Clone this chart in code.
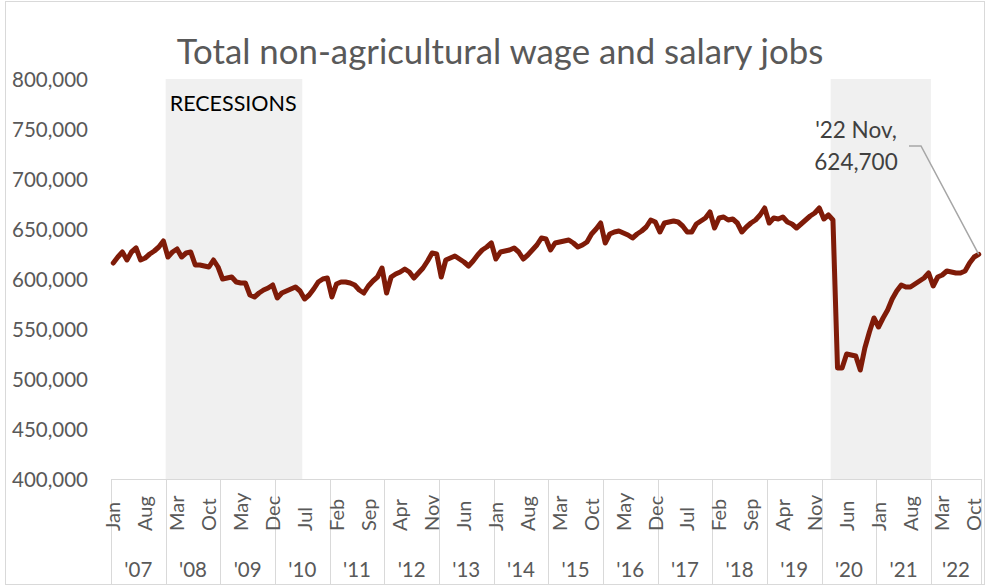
<!DOCTYPE html>
<html>
<head>
<meta charset="utf-8">
<script src="https://cdn.jsdelivr.net/npm/d3@7"></script>
<style>
    html, body { margin: 0; padding: 0; background: #fff; }
    svg { display: block; font-family: Lato, "Open Sans", sans-serif; }
</style>
</head>
<body>
<div id="chart"></div>
<script>
"use strict";

// Monthly jobs, Jan 2007 .. Nov 2022 (one row per year)
const jobs = [
    616000, 622000, 627000, 619000, 627000, 631000, 619000, 621000, 625000, 628000, 632000, 638000,
    622000, 627000, 630000, 622000, 626000, 627000, 614000, 614000, 613000, 612000, 619000, 612000,
    600000, 601000, 602000, 597000, 596000, 596000, 584000, 582000, 586000, 589000, 591000, 594000,
    581000, 586000, 588000, 590000, 592000, 588000, 580000, 584000, 590000, 597000, 600000, 601000,
    582000, 595000, 597000, 597000, 596000, 594000, 589000, 586000, 593000, 598000, 602000, 611000,
    586000, 602000, 605000, 607000, 610000, 607000, 601000, 606000, 611000, 618000, 626000, 625000,
    602000, 619000, 621000, 623000, 620000, 617000, 613000, 618000, 624000, 629000, 632000, 636000,
    620000, 627000, 628000, 629000, 631000, 627000, 620000, 624000, 629000, 634000, 641000, 640000,
    629000, 636000, 637000, 638000, 639000, 636000, 632000, 634000, 637000, 645000, 650000, 656000,
    636000, 645000, 647000, 648000, 646000, 644000, 641000, 645000, 648000, 652000, 659000, 657000,
    647000, 656000, 657000, 658000, 657000, 653000, 647000, 647000, 655000, 658000, 661000, 667000,
    651000, 661000, 662000, 659000, 660000, 656000, 647000, 652000, 656000, 659000, 664000, 671000,
    656000, 661000, 660000, 662000, 657000, 655000, 651000, 655000, 659000, 663000, 666000, 671000,
    660000, 664000, 659000, 511000, 511000, 525000, 524000, 523000, 509000, 531000, 547000, 561000,
    552000, 561000, 569000, 580000, 588000, 594000, 592000, 592000, 595000, 598000, 601000, 606000,
    593000, 602000, 604000, 608000, 607000, 606000, 606000, 608000, 616000, 622000, 624700
];

const years = ["'07", "'08", "'09", "'10", "'11", "'12", "'13", "'14", "'15", "'16", "'17", "'18", "'19", "'20", "'21", "'22"];
const months = ["Jan", "Feb", "Mar", "Apr", "May", "Jun", "Jul", "Aug", "Sep", "Oct", "Nov", "Dec"];

// first and last month index (from Jan 2007) of each shaded period
const recessionStart = [12, 158];
const recessionEnd = [41, 179];

const yTicks = [400000, 450000, 500000, 550000, 600000, 650000, 700000, 750000, 800000];

const TITLE = "Total non-agricultural wage and salary jobs";
const NOTE = ["'22 Nov,", "624,700"];

const WIDTH = 986;
const HEIGHT = 586;
const PLOT = { left: 111, right: 981, top: 79, bottom: 479 };
const LABEL_EVERY = 7;
const TEXT_GREY = "#595959";
const RULE_GREY = "#d9d9d9";

render(document.getElementById("chart"));

function render(container) {
    const svg = d3
        .select(container)
        .append("svg")
        .attr("width", WIDTH)
        .attr("height", HEIGHT);

    const points = jobs.map((value, index) => ({
        key: index,
        month: months[index % 12],
        year: Math.floor(index / 12),
        value
    }));

    const x = d3
        .scaleBand()
        .domain(points.map(d => d.key))
        .range([PLOT.left, PLOT.right])
        .padding(0);

    const y = d3
        .scaleLinear()
        .domain([yTicks[0], yTicks[yTicks.length - 1]])
        .range([PLOT.bottom, PLOT.top]);

    renderFrame(svg);
    renderRecessions(svg, x, y);
    renderYAxis(svg, y);
    renderXAxis(svg, x, points);
    renderLine(svg, x, y, points);
    renderNote(svg, x, y, points[points.length - 1]);
    renderTitle(svg);
}

function renderFrame(svg) {
    svg.append("rect")
        .attr("x", 5.5)
        .attr("y", 1.5)
        .attr("width", WIDTH - 7)
        .attr("height", HEIGHT - 3)
        .attr("fill", "white")
        .attr("stroke", RULE_GREY);
}

function renderRecessions(svg, x, y) {
    // Shading spans whole months, drawn like zero-gap bars up to the top tick
    svg.selectAll(".recession")
        .data(recessionStart.map((start, i) => [start, recessionEnd[i]]))
        .enter()
        .append("rect")
        .classed("recession", true)
        .attr("x", d => x(d[0]))
        .attr("width", d => x(d[1]) + x.bandwidth() - x(d[0]))
        .attr("y", y(yTicks[yTicks.length - 1]))
        .attr("height", y(yTicks[0]) - y(yTicks[yTicks.length - 1]))
        .attr("fill", "#f0f0f0");

    svg.append("text")
        .attr("x", x(recessionStart[0]) + 4)
        .attr("y", 111)
        .attr("font-size", 21.5)
        .attr("fill", "black")
        .text("RECESSIONS");
}

function renderYAxis(svg, y) {
    const axis = d3
        .axisLeft(y)
        .tickValues(yTicks)
        .tickFormat(d3.format(","))
        .tickSize(0)
        .tickPadding(0);

    const g = svg.append("g")
        .attr("transform", "translate(88, 0)")
        .call(axis);

    g.select(".domain").remove();
    g.selectAll("text")
        .attr("font-family", "Lato, sans-serif")
        .attr("font-size", 20.5)
        .attr("fill", TEXT_GREY)
        .attr("dy", "0.36em");
}

function renderXAxis(svg, x, points) {
    const band = x.bandwidth();

    svg.append("line")
        .attr("x1", PLOT.left)
        .attr("x2", PLOT.right)
        .attr("y1", PLOT.bottom + 0.5)
        .attr("y2", PLOT.bottom + 0.5)
        .attr("stroke", RULE_GREY);

    // Year separators, running down to the frame
    const edges = years.map((_, i) => x(i * 12)).concat([PLOT.right]);
    svg.selectAll(".year-rule")
        .data(edges)
        .enter()
        .append("line")
        .classed("year-rule", true)
        .attr("x1", d => Math.round(d) + 0.5)
        .attr("x2", d => Math.round(d) + 0.5)
        .attr("y1", PLOT.bottom)
        .attr("y2", HEIGHT - 1.5)
        .attr("stroke", RULE_GREY);

    // Month labels every seventh month, turned on their side
    svg.selectAll(".month-label")
        .data(points.filter(d => d.key % LABEL_EVERY === 0))
        .enter()
        .append("text")
        .classed("month-label", true)
        .attr("transform", d => `translate(${x(d.key) + band / 2}, 531) rotate(-90)`)
        .attr("dy", "0.36em")
        .attr("font-size", 20)
        .attr("fill", TEXT_GREY)
        .text(d => d.month);

    svg.selectAll(".year-label")
        .data(years)
        .enter()
        .append("text")
        .classed("year-label", true)
        .attr("x", (_, i) => (edges[i] + edges[i + 1]) / 2)
        .attr("y", 577)
        .attr("text-anchor", "middle")
        .attr("font-size", 20.5)
        .attr("fill", TEXT_GREY)
        .text(d => d);
}

function renderLine(svg, x, y, points) {
    const line = d3
        .line()
        .x(d => x(d.key) + x.bandwidth() / 2)
        .y(d => y(d.value));

    svg.append("path")
        .datum(points)
        .attr("d", line)
        .attr("fill", "none")
        .attr("stroke", "#7f1b08")
        .attr("stroke-width", 5)
        .attr("stroke-linejoin", "round")
        .attr("stroke-linecap", "round");
}

function renderNote(svg, x, y, last) {
    const px = x(last.key) + x.bandwidth() / 2;
    const py = y(last.value);

    svg.append("polyline")
        .attr("points", `909,146 921,146 ${px},${py}`)
        .attr("fill", "none")
        .attr("stroke", "#a6a6a6")
        .attr("stroke-width", 1.5);

    svg.selectAll(".note")
        .data(NOTE)
        .enter()
        .append("text")
        .classed("note", true)
        .attr("x", 856)
        .attr("y", (_, i) => 138 + i * 32)
        .attr("text-anchor", "middle")
        .attr("font-size", 22.5)
        .attr("fill", "#404040")
        .text(d => d);
}

function renderTitle(svg) {
    svg.append("text")
        .attr("x", 500)
        .attr("y", 64)
        .attr("text-anchor", "middle")
        .attr("font-size", 34.8)
        .attr("fill", TEXT_GREY)
        .text(TITLE);
}
</script>
</body>
</html>
